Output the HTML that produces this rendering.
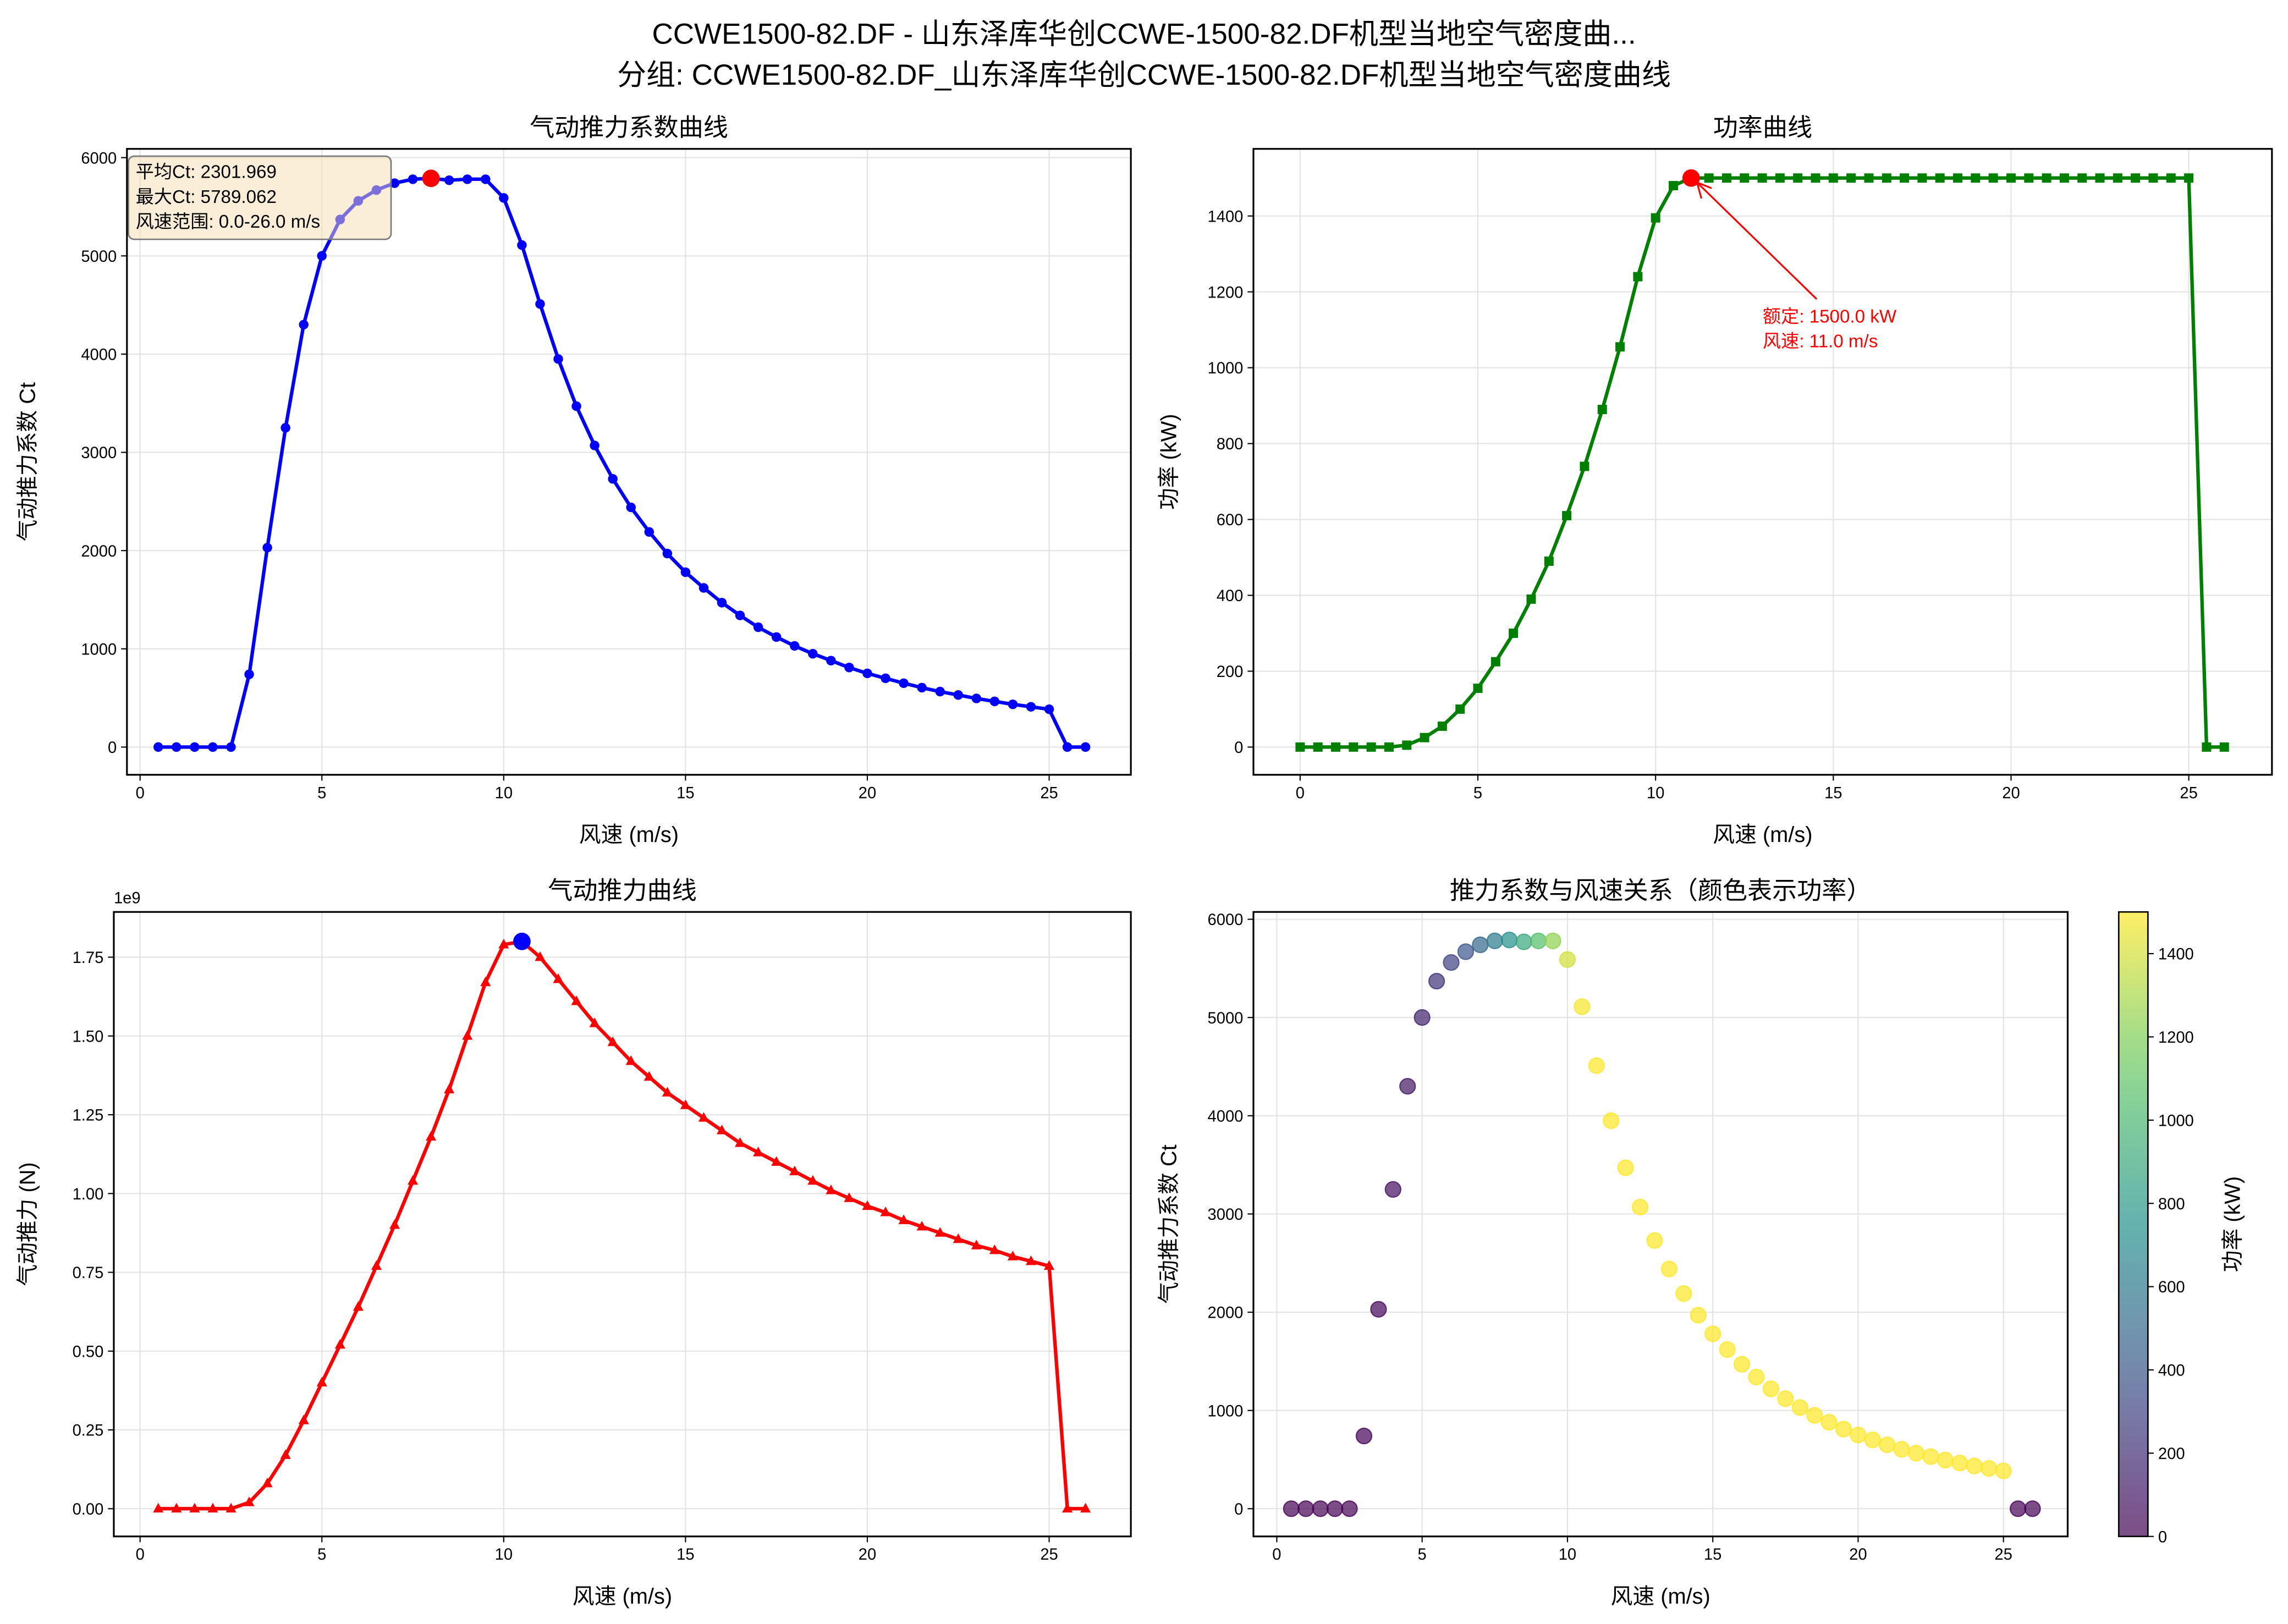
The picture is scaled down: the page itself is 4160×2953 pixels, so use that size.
<!DOCTYPE html>
<html><head><meta charset="utf-8"><style>
html,body{margin:0;padding:0;background:#fff;}
svg{display:block;}
text{font-family:"Liberation Sans","Noto Sans CJK SC",sans-serif;}
</style></head><body>
<svg id="s" width="4160" height="2953" viewBox="0 0 1568 1113" xmlns="http://www.w3.org/2000/svg">
<rect width="1568" height="1113" fill="#fff"/>
<text x="784" y="30" font-size="20" text-anchor="middle">CCWE1500-82.DF - 山东泽库华创CCWE-1500-82.DF机型当地空气密度曲...</text>
<text x="784" y="58" font-size="20" text-anchor="middle">分组: CCWE1500-82.DF_山东泽库华创CCWE-1500-82.DF机型当地空气密度曲线</text>
<g id="g"></g>
</svg>
<script>
var g=document.getElementById('g'),h='';
function add(s){h+=s;}
var ct=[0,0,0,0,0,740,2030,3250,4300,5000,5370,5560,5670,5740,5780,5789,5770,5780,5780,5590,5110,4510,3950,3470,3070,2730,2440,2190,1970,1780,1620,1470,1340,1220,1120,1030,950,880,810,750,700,650,605,565,530,495,465,435,410,385,0,0];
var ws=[];for(var i=0;i<ct.length;i++)ws.push(0.5+i*0.5);
var pw=[0,0,0,0,0,0,5,25,55,100,155,225,300,390,490,610,740,890,1055,1240,1395,1480];
while(pw.length<51)pw.push(1500);pw.push(0);pw.push(0);
var pws=[];for(var i=0;i<pw.length;i++)pws.push(i*0.5);
var th=[0,0,0,0,0,0.02,0.08,0.17,0.28,0.40,0.52,0.64,0.77,0.90,1.04,1.18,1.33,1.50,1.67,1.79,1.80,1.75,1.68,1.61,1.54,1.48,1.42,1.37,1.32,1.28,1.24,1.20,1.16,1.13,1.10,1.07,1.04,1.01,0.985,0.96,0.94,0.915,0.895,0.875,0.855,0.835,0.82,0.80,0.785,0.77,0,0];
function axes(o){
 var X=function(v){return o.x0+v*o.sx;},Y=function(v){return o.y0-v*o.sy;};
 o.X=X;o.Y=Y;
 add('<g font-size="11">');
 o.xt.forEach(function(t){var x=X(t);add('<line x1="'+x+'" x2="'+x+'" y1="'+o.t+'" y2="'+o.b+'" stroke="#e3e3e3" stroke-width="0.8"/><line x1="'+x+'" x2="'+x+'" y1="'+o.b+'" y2="'+(o.b+4)+'" stroke="#000" stroke-width="0.8"/><text x="'+x+'" y="'+(o.b+16)+'" text-anchor="middle">'+t+'</text>');});
 o.yt.forEach(function(t,i){var y=Y(t);add('<line x1="'+o.l+'" x2="'+o.r+'" y1="'+y+'" y2="'+y+'" stroke="#e3e3e3" stroke-width="0.8"/><line x1="'+(o.l-4)+'" x2="'+o.l+'" y1="'+y+'" y2="'+y+'" stroke="#000" stroke-width="0.8"/><text x="'+(o.l-7)+'" y="'+(y+4)+'" text-anchor="end">'+(o.yl?o.yl[i]:t)+'</text>');});
 add('</g>');
 add('<text x="'+((o.l+o.r)/2)+'" y="'+(o.t-9)+'" font-size="17" text-anchor="middle">'+o.title+'</text>');
 add('<text x="'+((o.l+o.r)/2)+'" y="'+(o.b+46)+'" font-size="15" text-anchor="middle">风速 (m/s)</text>');
 var yx=o.ylx,yy=(o.t+o.b)/2;
 add('<text x="'+yx+'" y="'+yy+'" font-size="15" text-anchor="middle" transform="rotate(-90 '+yx+' '+yy+')">'+o.ylab+'</text>');
}
function frame(o){add('<rect x="'+o.l+'" y="'+o.t+'" width="'+(o.r-o.l)+'" height="'+(o.b-o.t)+'" fill="none" stroke="#000" stroke-width="1.2"/>');}
function line(o,xs,ys,col){var p=xs.map(function(x,i){return o.X(x).toFixed(1)+','+o.Y(ys[i]).toFixed(1);}).join(' ');add('<polyline points="'+p+'" fill="none" stroke="'+col+'" stroke-width="2.4" stroke-linejoin="round"/>');}
// panel 1
var A={l:87,r:775,t:102,b:531,x0:96,sx:24.92,y0:512,sy:0.06733,xt:[0,5,10,15,20,25],yt:[0,1000,2000,3000,4000,5000,6000],title:'气动推力系数曲线',ylab:'气动推力系数 Ct',ylx:24};
axes(A);line(A,ws,ct,'#0000ff');
ws.forEach(function(w,i){add('<circle cx="'+A.X(w)+'" cy="'+A.Y(ct[i])+'" r="3.3" fill="#0000ff"/>');});
add('<circle cx="'+A.X(8)+'" cy="'+A.Y(5789)+'" r="6" fill="#ff0000"/>');
add('<rect x="88" y="107" width="180" height="57" rx="4" fill="#f5deb3" fill-opacity="0.5" stroke="#777" stroke-width="1"/>');
add('<g font-size="12.5"><text x="93" y="122">平均Ct: 2301.969</text><text x="93" y="139">最大Ct: 5789.062</text><text x="93" y="156">风速范围: 0.0-26.0 m/s</text></g>');
frame(A);
// panel 2
var B={l:859,r:1557,t:102,b:531,x0:891,sx:24.36,y0:512,sy:0.26,xt:[0,5,10,15,20,25],yt:[0,200,400,600,800,1000,1200,1400],title:'功率曲线',ylab:'功率 (kW)',ylx:806};
axes(B);line(B,pws,pw,'#008000');
pws.forEach(function(w,i){var x=B.X(w),y=B.Y(pw[i]);add('<rect x="'+(x-3.2)+'" y="'+(y-3.2)+'" width="6.4" height="6.4" fill="#008000"/>');});
add('<circle cx="'+B.X(11)+'" cy="'+B.Y(1500)+'" r="6" fill="#ff0000"/>');
add('<line x1="1245" y1="205" x2="1164" y2="126" stroke="#ff0000" stroke-width="1.2"/><polyline points="1166,136 1163,125 1173,129" fill="none" stroke="#ff0000" stroke-width="1.2"/>');
add('<g font-size="12.5" fill="#ff0000"><text x="1208" y="221">额定: 1500.0 kW</text><text x="1208" y="238">风速: 11.0 m/s</text></g>');
frame(B);
// panel 3
var C={l:78,r:775,t:625,b:1053,x0:96,sx:24.92,y0:1034,sy:216,xt:[0,5,10,15,20,25],yt:[0,0.25,0.5,0.75,1,1.25,1.5,1.75],yl:['0.00','0.25','0.50','0.75','1.00','1.25','1.50','1.75'],title:'气动推力曲线',ylab:'气动推力 (N)',ylx:24};
axes(C);add('<text x="78" y="619" font-size="11">1e9</text>');line(C,ws,th,'#ff0000');
ws.forEach(function(w,i){var x=C.X(w),y=C.Y(th[i]);add('<polygon points="'+x+','+(y-4)+' '+(x-3.6)+','+(y+2.6)+' '+(x+3.6)+','+(y+2.6)+'" fill="#ff0000"/>');});
add('<circle cx="'+C.X(10.5)+'" cy="'+C.Y(1.80)+'" r="6" fill="#0000ff"/>');
frame(C);
// panel 4
var D={l:859,r:1417,t:625,b:1053,x0:875,sx:19.92,y0:1034,sy:0.06733,xt:[0,5,10,15,20,25],yt:[0,1000,2000,3000,4000,5000,6000],title:'推力系数与风速关系（颜色表示功率）',ylab:'气动推力系数 Ct',ylx:806};
axes(D);
var st=[[68,1,84],[59,82,139],[33,145,140],[94,201,98],[253,231,37]];
function vir(t){t=Math.max(0,Math.min(1,t))*4;var i=Math.min(3,Math.floor(t)),f=t-i,a=st[i],b=st[i+1];return 'rgb('+[0,1,2].map(function(k){return Math.round(a[k]+(b[k]-a[k])*f);}).join(',')+')';}
ws.forEach(function(w,i){var p=pw[i+1];add('<circle cx="'+D.X(w)+'" cy="'+D.Y(ct[i])+'" r="5.3" fill="'+vir(p/1500)+'" fill-opacity="0.7" stroke="'+vir(p/1500)+'" stroke-opacity="0.8" stroke-width="0.8"/>');});
frame(D);
// colorbar
add('<defs><linearGradient id="cb" x1="0" y1="1" x2="0" y2="0">');
for(var k=0;k<=10;k++)add('<stop offset="'+(k/10)+'" stop-color="'+vir(k/10)+'" stop-opacity="0.7"/>');
add('</linearGradient></defs><rect x="1452" y="625" width="20" height="428" fill="url(#cb)" stroke="#000" stroke-width="1"/>');
add('<g font-size="11">');
[0,200,400,600,800,1000,1200,1400].forEach(function(v){var y=1053-v*0.2853;add('<line x1="1472" x2="1476" y1="'+y+'" y2="'+y+'" stroke="#000" stroke-width="0.8"/><text x="1479" y="'+(y+4)+'">'+v+'</text>');});
add('</g><text x="1535" y="839" font-size="15" text-anchor="middle" transform="rotate(-90 1535 839)">功率 (kW)</text>');
g.innerHTML=h;
</script>
</body></html>
